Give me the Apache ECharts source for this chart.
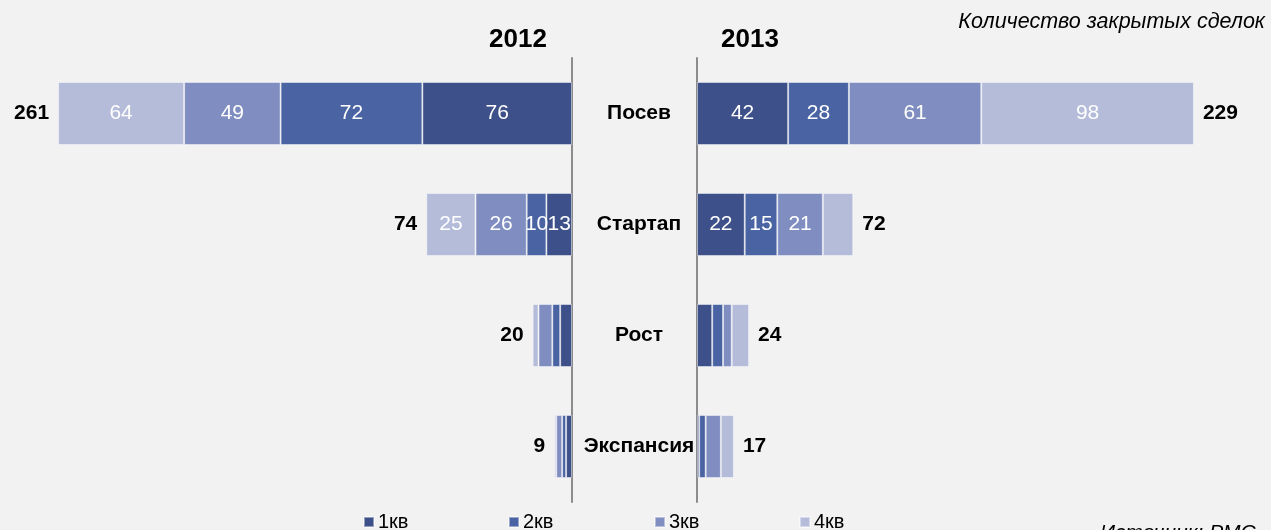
<!DOCTYPE html>
<html>
<head>
<meta charset="utf-8">
<script src="https://cdn.jsdelivr.net/npm/echarts@6/dist/echarts.min.js"></script>
<style>
  html, body { margin: 0; padding: 0; background: #f2f2f2; }
  #chart { width: 1271px; height: 530px; }
</style>
</head>
<body>
<div id="chart"></div>
<script>
// Stages of investment and closed deals per quarter
const stages = ['Посев', 'Стартап', 'Рост', 'Экспансия'];
const quarters = ['1кв', '2кв', '3кв', '4кв'];

// 2012: deals by quarter, one array per quarter, in stage order
const q1_2012 = [76, 13, 6, 3];
const q2_2012 = [72, 10, 4, 2];
const q3_2012 = [49, 26, 7, 3];
const q4_2012 = [64, 25, 3, 1];

// 2013
const q1_2013 = [42, 22, 7, 1];
const q2_2013 = [28, 15, 5, 3];
const q3_2013 = [61, 21, 4, 7];
const q4_2013 = [98, 14, 8, 6];

const yearLeft = '2012';
const yearRight = '2013';
const subtitle = 'Количество закрытых сделок';
const source = 'Источник: РМС';

const colors = ['#3e5089', '#4a64a3', '#7f8dc0', '#b4bcd9'];
const FONT = 'Liberation Sans, Arial, sans-serif';

const data2012 = [q1_2012, q2_2012, q3_2012, q4_2012];
const data2013 = [q1_2013, q2_2013, q3_2013, q4_2013];

// which segments carry a value label inside the bar: [quarter][stage]
const inner2012 = [[1,1,0,0],[1,1,0,0],[1,1,0,0],[1,1,0,0]];
const inner2013 = [[1,1,0,0],[1,1,0,0],[1,1,0,0],[1,0,0,0]];

const totals = (sets) => stages.map((_, i) => sets.reduce((s, arr) => s + arr[i], 0));
const total2012 = totals(data2012);
const total2013 = totals(data2013);

function barSeries(sets, flags, axis, stack) {
  return sets.map((arr, q) => ({
    name: quarters[q],
    type: 'bar',
    stack: stack,
    xAxisIndex: axis,
    yAxisIndex: axis,
    barWidth: 63,
    itemStyle: { color: colors[q], borderColor: 'rgba(255,255,255,0.45)', borderWidth: 1 },
    label: { show: true, position: 'inside', color: '#ffffff', fontFamily: FONT, fontSize: 21 },
    emphasis: { disabled: true },
    data: arr.map((v, i) => ({ value: v, label: { show: !!flags[q][i] } })),
    z: 2
  }));
}

// totals written just beyond the end of each stacked bar
function totalSeries(vals, axis, side) {
  return {
    type: 'scatter',
    xAxisIndex: axis,
    yAxisIndex: axis,
    symbolSize: 0,
    silent: true,
    itemStyle: { opacity: 1 },
    data: vals,
    label: {
      show: true,
      position: side,
      distance: 9,
      color: '#000',
      opacity: 1,
      fontFamily: FONT,
      fontWeight: 'bold',
      fontSize: 21
    },
    z: 3
  };
}

const chart = echarts.init(document.getElementById('chart'), null, { renderer: 'canvas' });

const legendPos = [363, 508, 654, 799];

chart.setOption({
  backgroundColor: '#f2f2f2',
  animation: false,
  grid: [
    { left: 40.4, right: 699, top: 58, bottom: 28 },
    { left: 697, right: 31.5, top: 58, bottom: 28 }
  ],
  xAxis: [
    { gridIndex: 0, type: 'value', min: 0, max: 270, inverse: true, show: false },
    { gridIndex: 1, type: 'value', min: 0, max: 250, show: false }
  ],
  yAxis: [
    {
      gridIndex: 0, type: 'category', data: stages, inverse: true, position: 'right',
      axisLine: { show: true, onZero: false, lineStyle: { color: '#8c8c8c', width: 2 } },
      axisTick: { show: false }, axisLabel: { show: false }, splitLine: { show: false }
    },
    {
      gridIndex: 1, type: 'category', data: stages, inverse: true, position: 'left',
      axisLine: { show: true, onZero: false, lineStyle: { color: '#8c8c8c', width: 2 } },
      axisTick: { show: false }, splitLine: { show: false },
      axisLabel: {
        show: true, margin: 58, align: 'center', color: '#000',
        fontFamily: FONT, fontWeight: 'bold', fontSize: 21
      }
    }
  ],
  legend: quarters.map((q, i) => ({
    data: [q],
    left: legendPos[i],
    top: 512,
    padding: 0,
    itemWidth: 10,
    itemHeight: 10,
    itemGap: 0,
    icon: 'rect',
    selectedMode: false,
    textStyle: { fontFamily: FONT, fontSize: 20, color: '#000', padding: [0, 0, 0, -1] }
  })),
  graphic: [
    { type: 'text', style: { x: 518, y: 40, text: yearLeft, textAlign: 'center', textVerticalAlign: 'middle', font: 'bold 26px ' + FONT, fill: '#000' } },
    { type: 'text', style: { x: 750, y: 40, text: yearRight, textAlign: 'center', textVerticalAlign: 'middle', font: 'bold 26px ' + FONT, fill: '#000' } },
    { type: 'text', style: { x: 1265, y: 22, text: subtitle, textAlign: 'right', textVerticalAlign: 'middle', font: 'italic 21.5px ' + FONT, fill: '#000' } },
    { type: 'text', style: { x: 1100, y: 523, text: source, textAlign: 'left', textVerticalAlign: 'top', font: 'italic 21px ' + FONT, fill: '#000' } }
  ],
  series: [
    ...barSeries(data2012, inner2012, 0, 'y2012'),
    ...barSeries(data2013, inner2013, 1, 'y2013'),
    totalSeries(total2012, 0, 'left'),
    totalSeries(total2013, 1, 'right')
  ]
});
</script>
</body>
</html>
